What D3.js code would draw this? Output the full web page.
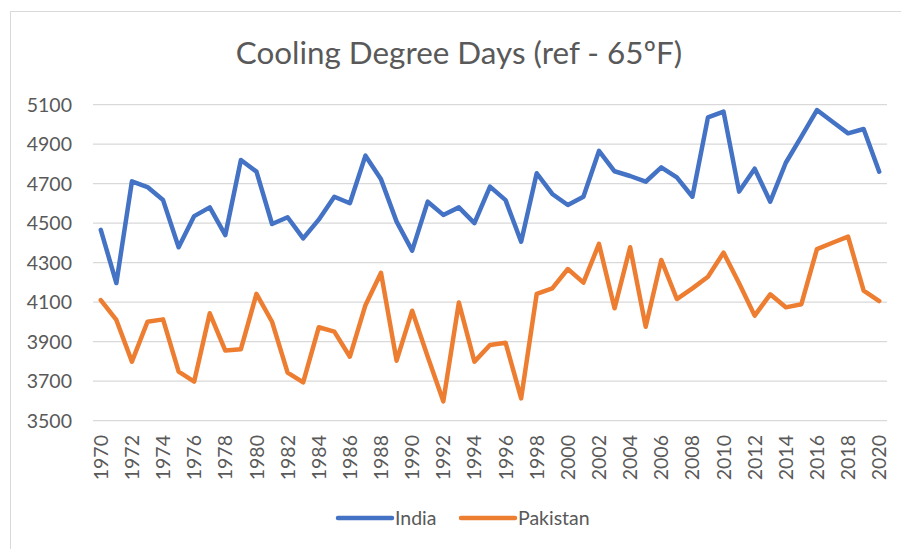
<!DOCTYPE html>
<html>
<head>
<meta charset="utf-8">
<script src="https://cdn.jsdelivr.net/npm/d3@7"></script>
<style>
  body { margin: 0; background: #fff; }
  svg text { font-family: Lato, "Open Sans", sans-serif; fill: #595959; }
</style>
</head>
<body>
<svg id="chart" width="901" height="549"></svg>
<script>
const years = d3.range(1970, 2021);
const india = [4466, 4197, 4712, 4683, 4617, 4378, 4536, 4580, 4440, 4820,
  4761, 4496, 4530, 4423, 4518, 4634, 4601, 4842, 4722, 4508,
  4361, 4609, 4542, 4580, 4500, 4685, 4617, 4406, 4753, 4648,
  4592, 4634, 4866, 4763, 4739, 4710, 4783, 4732, 4634, 5036,
  5065, 4660, 4776, 4609, 4806, 4938, 5073, 5014, 4955, 4977, 4761];
const pakistan = [4111, 4010, 3799, 4001, 4013, 3748, 3698, 4044, 3855, 3862,
  4142, 4001, 3743, 3694, 3973, 3951, 3824, 4085, 4249, 3804,
  4057, 3824, 3598, 4098, 3799, 3883, 3895, 3613, 4142, 4170,
  4268, 4199, 4395, 4069, 4378, 3976, 4314, 4116, 4170, 4229,
  4351, 4196, 4032, 4140, 4074, 4090, 4369, 4401, 4432, 4158, 4106];
const yTicks = d3.range(3500, 5101, 200);
const series = [
  { name: 'India', values: india, color: '#4472C4' },
  { name: 'Pakistan', values: pakistan, color: '#ED7D31' }
];

const svg = d3.select('#chart');
const plot = { left: 93, right: 887, top: 104.7, bottom: 420.7 };

// chart border (only top/left visible in the frame)
svg.append('rect').attr('x', 10.5).attr('y', 11.5).attr('width', 900).attr('height', 560)
  .attr('fill', 'none').attr('stroke', '#d9d9d9').attr('stroke-width', 1);

const x = d3.scaleBand().domain(years).range([plot.left, plot.right]);
const xc = d => x(d) + x.bandwidth() / 2;
const y = d3.scaleLinear().domain([3500, 5100]).range([plot.bottom, plot.top]);

// gridlines
svg.append('g').selectAll('line').data(yTicks).join('line')
  .attr('x1', plot.left).attr('x2', plot.right)
  .attr('y1', d => y(d)).attr('y2', d => y(d))
  .attr('stroke', '#d9d9d9').attr('stroke-width', 1.3);

// y axis labels
svg.append('g').selectAll('text').data(yTicks).join('text')
  .attr('x', 72).attr('y', d => y(d)).attr('dy', '0.36em')
  .attr('text-anchor', 'end').style('font-size', '19.5px')
  .text(d => d);

// x axis labels (every other year, rotated)
svg.append('g').selectAll('text').data(years.filter(d => d % 2 === 0)).join('text')
  .attr('transform', d => `translate(${xc(d)},435) rotate(-90)`)
  .attr('dy', '0.36em').attr('text-anchor', 'end').style('font-size', '19.5px')
  .text(d => d);

// lines
const line = d3.line().x((d, i) => xc(years[i])).y(d => y(d));
series.forEach(s => {
  svg.append('path').datum(s.values)
    .attr('d', line).attr('fill', 'none')
    .attr('stroke', s.color).attr('stroke-width', 4.5)
    .attr('stroke-linejoin', 'round').attr('stroke-linecap', 'round');
});

// title
svg.append('text').attr('x', 459).attr('y', 64)
  .attr('text-anchor', 'middle').style('font-size', '31.4px')
  .text('Cooling Degree Days (ref - 65ºF)');

// legend
const legendX = [338, 461];
series.forEach((s, i) => {
  const g = svg.append('g').attr('transform', `translate(${legendX[i]},518)`);
  g.append('line').attr('x1', 0).attr('x2', 54).attr('y1', 0).attr('y2', 0)
    .attr('stroke', s.color).attr('stroke-width', 4.5).attr('stroke-linecap', 'round');
  g.append('text').attr('x', 57).attr('dy', '0.36em').style('font-size', '19.5px').text(s.name);
});
</script>
</body>
</html>
